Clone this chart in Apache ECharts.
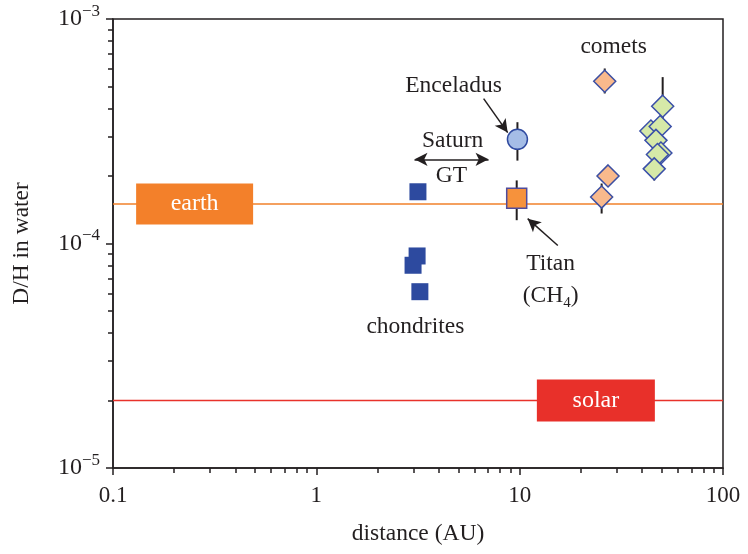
<!DOCTYPE html>
<html>
<head>
<meta charset="utf-8">
<script src="https://cdn.jsdelivr.net/npm/echarts@6/dist/echarts.min.js"></script>
<style>
html,body{margin:0;padding:0;background:#fff;}
#chart{width:748px;height:554px;}
</style>
</head>
<body>
<div id="chart"></div>
<script>
// ---- data ----
const xMajorTicks = [0.1, 1, 10, 100];
const xMinorTicks = [0.2,0.3,0.4,0.5,0.6,0.7,0.8,0.9,2,3,4,5,6,7,8,9,20,30,40,50,60,70,80,90];
const yMajorTicks = [1e-5, 1e-4, 1e-3];
const yMinorTicks = [2e-5,3e-5,4e-5,5e-5,6e-5,7e-5,8e-5,9e-5,2e-4,3e-4,4e-4,5e-4,6e-4,7e-4,8e-4,9e-4];

const earthDH = 1.5e-4;
const solarDH = 2.0e-5;
const earthLine = [[0.1, earthDH], [100, earthDH]];
const solarLine = [[0.1, solarDH], [100, solarDH]];
const earthBox = [[0.252, earthDH]];
const solarBox = [[23.7, solarDH]];

const chondrites = [[3.16, 1.70e-4], [3.13, 0.88e-4], [2.99, 0.80e-4], [3.23, 0.61e-4]];
const enceladus = [[9.75, 2.91e-4]];
const titan = [[9.67, 1.59e-4]];
const oortComets = [[26.2, 5.28e-4], [27.2, 2.00e-4], [25.3, 1.61e-4]];
const jupiterComets = [[44.2, 3.17e-4], [49.1, 3.32e-4], [46.8, 2.88e-4], [49.5, 2.53e-4], [47.6, 2.49e-4], [45.9, 2.15e-4], [50.5, 4.09e-4]];
// error bars: [x, low, high]
const errorBars = [[9.75, 2.34e-4, 3.47e-4], [9.67, 1.27e-4, 1.91e-4], [26.2, 4.66e-4, 6.02e-4],
                   [25.3, 1.36e-4, 1.85e-4], [50.5, 3.1e-4, 5.51e-4], [45.9, 1.91e-4, 2.47e-4]];

// annotations: [x, y, text]
const annotations = [
  [29.0, 7.54e-4, 'comets'],
  [4.73, 5.06e-4, 'Enceladus'],
  [4.68, 2.88e-4, 'Saturn'],
  [4.62, 2.01e-4, 'GT'],
  [3.07, 4.27e-5, 'chondrites'],
  [14.2, 8.14e-5, 'Titan'],
  [14.2, 5.87e-5, '(CH{sub|4})']
];
// arrows: [[x1,y1],[x2,y2], double?]
const arrows = [
  [[6.65, 4.42e-4], [8.73, 3.12e-4], false],
  [[15.4, 0.98e-4], [10.95, 1.29e-4], false],
  [[3.04, 2.37e-4], [7.03, 2.37e-4], true]
];

// ---- chart ----
const FONT = 'Liberation Serif';
const INK = '#231f20';
const chart = echarts.init(document.getElementById('chart'), null, {renderer: 'canvas'});

function supLabel(v) {
  const e = Math.round(Math.log10(v));
  return '{b|10}{s|\u2212' + Math.abs(e) + '}';
}

const baseAxisLine = {show: true, lineStyle: {color: INK, width: 1.5}};

const option = {
  animation: false,
  backgroundColor: '#fff',
  grid: {left: 113, right: 25, top: 19, bottom: 86, show: true, borderColor: INK, borderWidth: 1.5, backgroundColor: 'transparent'},
  xAxis: [
    {
      type: 'log', logBase: 10, min: 0.1, max: 100, position: 'bottom',
      name: 'distance (AU)', nameLocation: 'middle', nameGap: 54,
      nameTextStyle: {fontFamily: FONT, fontSize: 23.5, color: INK},
      axisLine: baseAxisLine,
      axisTick: {show: true, inside: false, length: 7, lineStyle: {color: INK, width: 1.5}, customValues: xMajorTicks},
      axisLabel: {fontFamily: FONT, fontSize: 23, color: INK, margin: 16, customValues: xMajorTicks,
        formatter: v => (v < 1 ? String(Math.round(v * 10) / 10) : String(Math.round(v)))},
      splitLine: {show: false}
    },
    {
      type: 'log', logBase: 10, min: 0.1, max: 100, position: 'bottom', offset: 0,
      axisLine: {show: false},
      axisTick: {show: true, inside: false, length: 5, lineStyle: {color: INK, width: 1.5}, customValues: xMinorTicks},
      axisLabel: {show: false},
      splitLine: {show: false}
    }
  ],
  yAxis: [
    {
      type: 'log', logBase: 10, min: 1e-5, max: 1e-3, position: 'left',
      name: 'D/H in water', nameLocation: 'middle', nameGap: 79, nameRotate: 90,
      nameTextStyle: {fontFamily: FONT, fontSize: 23.5, color: INK},
      axisLine: baseAxisLine,
      axisTick: {show: true, inside: false, length: 7, lineStyle: {color: INK, width: 1.5}, customValues: yMajorTicks},
      axisLabel: {margin: 13, customValues: yMajorTicks, formatter: supLabel,
        rich: {
          b: {fontFamily: FONT, fontSize: 24, color: INK, lineHeight: 32, verticalAlign: 'middle'},
          s: {fontFamily: FONT, fontSize: 17, color: INK, lineHeight: 32, verticalAlign: 'top'}
        }},
      splitLine: {show: false}
    },
    {
      type: 'log', logBase: 10, min: 1e-5, max: 1e-3, position: 'left', offset: 0,
      axisLine: {show: false},
      axisTick: {show: true, inside: false, length: 5, lineStyle: {color: INK, width: 1.5}, customValues: yMinorTicks},
      axisLabel: {show: false},
      splitLine: {show: false}
    }
  ],
  series: [
    {
      type: 'line', data: earthLine, symbol: 'none', z: 1,
      lineStyle: {color: '#f0812a', width: 1.5}
    },
    {
      type: 'line', data: solarLine, symbol: 'none', z: 1,
      lineStyle: {color: '#e8322b', width: 1.5}
    },
    {
      type: 'scatter', data: earthBox, symbol: 'rect', symbolSize: [117, 41], z: 2,
      itemStyle: {color: '#f3802a', opacity: 1},
      label: {show: true, position: 'inside', formatter: 'earth', fontFamily: FONT, fontSize: 24, color: '#fff'}
    },
    {
      type: 'scatter', data: solarBox, symbol: 'rect', symbolSize: [118, 42], z: 2,
      itemStyle: {color: '#e8302a', opacity: 1},
      label: {show: true, position: 'inside', formatter: 'solar', fontFamily: FONT, fontSize: 24, color: '#fff'}
    },
    {
      type: 'custom', z: 3,
      data: errorBars,
      encode: {x: 0, y: [1, 2]},
      renderItem: function (params, api) {
        const p1 = api.coord([api.value(0), api.value(1)]);
        const p2 = api.coord([api.value(0), api.value(2)]);
        return {type: 'line', shape: {x1: p1[0], y1: p1[1], x2: p2[0], y2: p2[1]},
                style: {stroke: INK, lineWidth: 2}};
      }
    },
    {
      type: 'scatter', data: chondrites, symbol: 'rect', symbolSize: 17, z: 4,
      itemStyle: {color: '#2d4a9f', opacity: 1}
    },
    {
      type: 'scatter', data: enceladus, symbol: 'circle', symbolSize: 20, z: 4,
      itemStyle: {color: '#a5bde6', borderColor: '#2f4aa0', borderWidth: 1.5, opacity: 1}
    },
    {
      type: 'scatter', data: titan, symbol: 'rect', symbolSize: 20, z: 4,
      itemStyle: {color: '#f6923c', borderColor: '#4f4b9c', borderWidth: 1.5, opacity: 1}
    },
    {
      type: 'scatter', data: oortComets, symbol: 'diamond', symbolSize: 22, z: 4,
      itemStyle: {color: '#f9b98c', borderColor: '#3c4fa2', borderWidth: 1.5, opacity: 1}
    },
    {
      type: 'scatter', data: jupiterComets, symbol: 'diamond', symbolSize: 22, z: 4,
      itemStyle: {color: '#d6e9a8', borderColor: '#3a4fa8', borderWidth: 1.5, opacity: 1}
    },
    {
      type: 'scatter', z: 5, symbolSize: 1, itemStyle: {color: 'rgba(0,0,0,0)', opacity: 1},
      data: annotations.map(a => ({value: [a[0], a[1]], name: a[2]})),
      label: {show: true, position: 'inside', formatter: p => p.name,
        fontFamily: FONT, fontSize: 23.5, color: INK,
        rich: {sub: {fontFamily: FONT, fontSize: 15, color: INK, lineHeight: 30, verticalAlign: 'bottom'}}},
      markLine: {
        silent: true, precision: 10,
        symbolSize: [10, 13],
        lineStyle: {color: INK, width: 1.5, type: 'solid'},
        label: {show: false},
        data: arrows.map(a => [
          {coord: a[0], symbol: a[2] ? 'arrow' : 'none'},
          {coord: a[1], symbol: 'arrow'}
        ])
      }
    }
  ]
};
chart.setOption(option);
</script>
</body>
</html>
